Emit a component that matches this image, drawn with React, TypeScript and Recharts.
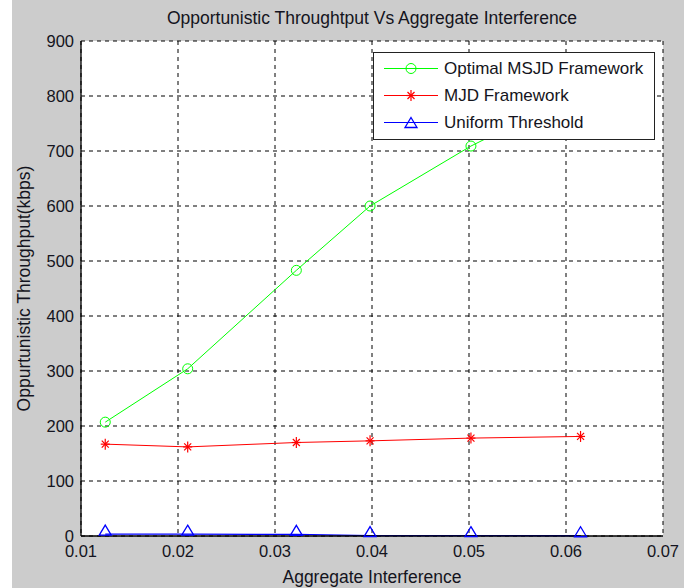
import React from 'react'
import { LineChart, Line, XAxis, YAxis, CartesianGrid, Legend } from 'recharts'

const xValues = [0.0125, 0.021, 0.0322, 0.0398, 0.0502, 0.0615]
const msjd = [207, 304, 483, 600, 709, 808]
const mjd = [167, 162, 170, 173, 178, 181]
const uniform = [3.5, 3.3, 3.0, 0.8, 0.6, 0.5]
const xTicks = [0.01, 0.02, 0.03, 0.04, 0.05, 0.06, 0.07]
const yTicks = [0, 100, 200, 300, 400, 500, 600, 700, 800, 900]

const seriesNames = ['Optimal MSJD Framework', 'MJD Framework', 'Uniform Threshold']

const data = xValues.map((x, i) => ({ x, msjd: msjd[i], mjd: mjd[i], uniform: uniform[i] }))

const FONT = '"Liberation Sans", Arial, sans-serif'
const TXT = '#141420'

const Circle = (p: any) => (
  <circle key={p.index} cx={p.cx} cy={p.cy} r={5} fill="none" stroke="#00ff00" strokeWidth={1} />
)
const Star = (p: any) => {
  const { cx, cy } = p
  return (
    <g key={p.index} stroke="#ff0000" strokeWidth={1.2}>
      <line x1={cx} y1={cy - 5.5} x2={cx} y2={cy + 5.5} />
      <line x1={cx - 4.5} y1={cy} x2={cx + 4.5} y2={cy} />
      <line x1={cx - 3.5} y1={cy - 3.5} x2={cx + 3.5} y2={cy + 3.5} />
      <line x1={cx - 3.5} y1={cy + 3.5} x2={cx + 3.5} y2={cy - 3.5} />
    </g>
  )
}
const Tri = (p: any) => {
  const { cx, cy } = p
  return (
    <path key={p.index} d={`M${cx},${cy - 9}L${cx + 6},${cy + 1}L${cx - 6},${cy + 1}Z`} fill="none" stroke="#0000ff" strokeWidth={1.3} />
  )
}

const markers = [
  { color: '#00ff00', dot: (cx: number, cy: number) => <circle cx={cx} cy={cy} r={5} fill="none" stroke="#00ff00" /> },
  { color: '#ff0000', dot: (cx: number, cy: number) => Star({ cx, cy, index: 0 }) },
  { color: '#0000ff', dot: (cx: number, cy: number) => Tri({ cx, cy: cy + 4, index: 0 }) },
]

const LegendBox = () => (
  <div style={{ background: '#fff', border: '1px solid #222', width: 280, height: 84, paddingTop: 2, boxSizing: 'content-box', fontFamily: FONT, fontSize: 17, color: TXT }}>
    {seriesNames.map((name, i) => (
      <div key={name} style={{ display: 'flex', alignItems: 'center', height: 27 }}>
        <svg width={64} height={27} style={{ flex: 'none' }}>
          <line x1={10} y1={13.5} x2={64} y2={13.5} stroke={markers[i].color} strokeWidth={1} />
          {markers[i].dot(37, 13.5)}
        </svg>
        <span style={{ marginLeft: 6, whiteSpace: 'nowrap' }}>{name}</span>
      </div>
    ))}
  </div>
)

export default function App() {
  return (
    <div style={{ position: 'absolute', left: 0, top: 0, width: 689, height: 588, background: '#fff' }}>
      <div style={{ position: 'absolute', left: 12, top: 0, width: 672, height: 588, background: '#cccccc' }}>
        <div style={{ position: 'absolute', left: 0, top: 7, width: 720, textAlign: 'center', fontFamily: FONT, fontSize: 17.5, lineHeight: '22px', color: TXT, zIndex: 2 }}>
          Opportunistic Throughtput Vs Aggregate Interference
        </div>
        <LineChart width={672} height={588} data={data} margin={{ top: 41, right: 21, bottom: 0, left: 0 }}>
          <CartesianGrid stroke="#000" strokeDasharray="4 4" fill="#fff" fillOpacity={1} />
          <XAxis
            dataKey="x"
            type="number"
            domain={[0.01, 0.07]}
            ticks={xTicks}
            tickFormatter={(v: number) => v.toFixed(2)}
            height={52}
            tickSize={0}
            tickMargin={9}
            axisLine={{ stroke: '#000', strokeWidth: 1.3 }}
            tick={{ fill: TXT, fontSize: 16.5, fontFamily: FONT }}
            label={{ value: 'Aggregate Interference', position: 'insideBottom', offset: 5, fill: TXT, fontSize: 17.5, fontFamily: FONT }}
          />
          <YAxis
            type="number"
            domain={[0, 900]}
            ticks={yTicks}
            width={69}
            tickSize={0}
            tickMargin={7}
            axisLine={{ stroke: '#000', strokeWidth: 1.3 }}
            tick={{ fill: TXT, fontSize: 16.5, fontFamily: FONT }}
            label={{ value: 'Oppurtunistic Throughput(kbps)', angle: -90, position: 'insideLeft', offset: 12, fill: TXT, fontSize: 17.5, fontFamily: FONT, style: { textAnchor: 'middle' } }}
          />
          <Line dataKey="msjd" stroke="#00ff00" strokeWidth={1} dot={Circle} activeDot={false} isAnimationActive={false} />
          <Line dataKey="mjd" stroke="#ff0000" strokeWidth={1} dot={Star} activeDot={false} isAnimationActive={false} />
          <Line dataKey="uniform" stroke="#0000ff" strokeWidth={1.3} dot={Tri} activeDot={false} isAnimationActive={false} />
          <Legend layout="horizontal" verticalAlign="middle" content={LegendBox} wrapperStyle={{ left: 361, top: 52, width: 282, height: 86 }} />
        </LineChart>
      </div>
    </div>
  )
}
